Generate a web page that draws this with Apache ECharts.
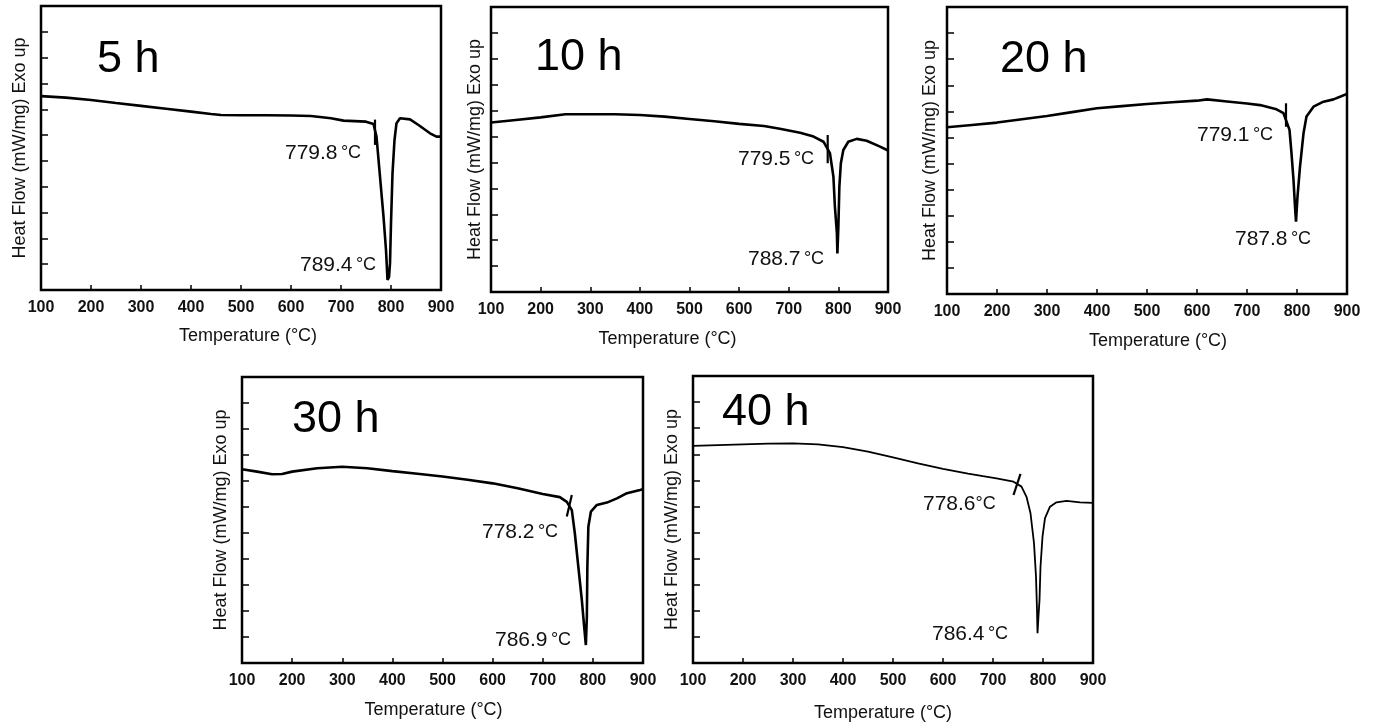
<!DOCTYPE html>
<html>
<head>
<meta charset="utf-8">
<title>DSC</title>
<script src="https://cdn.jsdelivr.net/npm/echarts@6/dist/echarts.min.js"></script>
<style>
  html, body { margin: 0; padding: 0; background: #fff; }
  #main { width: 1379px; height: 725px; }
</style>
</head>
<body>
<div id="main"></div>
<script>
// 样品标签
var titles = ['5 h', '10 h', '20 h', '30 h', '40 h']
var xTicks = [100, 200, 300, 400, 500, 600, 700, 800, 900]
// 起始温度 / 峰值温度
var onsetTemps = ['779.8', '779.5', '779.1', '778.2', '778.6']
var peakTemps = ['789.4', '788.7', '787.8', '786.9', '786.4']

// DSC曲线 [温度, 热流(任意单位)]
var curve5 = [[100,7.51],[150,7.45],[200,7.36],[250,7.24],[300,7.13],[350,7.02],[400,6.91],[440,6.82],[460,6.78],[500,6.77],[550,6.77],[600,6.76],[640,6.74],[680,6.65],[705,6.56],[750,6.52],[765,6.43],[771,5.94],[778,4.39],[785,2.84],[790,1.55],[793,0.39],[796,0.5],[798,1.03],[800,2.58],[803,4.52],[807,5.81],[811,6.46],[818,6.65],[838,6.61],[855,6.39],[878,6.07],[891,5.94],[900,5.94]]
var curve10 = [[100,6.54],[150,6.64],[200,6.74],[250,6.86],[300,6.86],[350,6.86],[400,6.83],[450,6.77],[500,6.68],[550,6.59],[600,6.49],[650,6.41],[682,6.30],[723,6.15],[750,6.0],[770,5.80],[783,5.36],[790,4.45],[793,3.29],[797,2.27],[798,1.49],[800,2.52],[802,4.07],[805,4.97],[810,5.48],[820,5.80],[837,5.91],[857,5.84],[884,5.61],[900,5.46]]
var curve20 = [[100,6.39],[150,6.48],[200,6.57],[250,6.70],[300,6.82],[350,6.97],[400,7.12],[450,7.20],[500,7.28],[550,7.35],[600,7.41],[620,7.46],[660,7.38],[700,7.30],[726,7.24],[759,7.08],[773,6.93],[785,6.29],[789,5.39],[793,4.37],[796,3.35],[798,2.77],[801,3.73],[806,4.88],[813,6.16],[819,6.80],[833,7.18],[853,7.37],[873,7.46],[886,7.56],[900,7.67]]
var curve30 = [[100,7.45],[130,7.36],[160,7.26],[180,7.27],[200,7.36],[250,7.49],[300,7.55],[350,7.49],[400,7.38],[450,7.28],[500,7.17],[550,7.05],[600,6.91],[650,6.72],[700,6.50],[734,6.38],[748,6.20],[758,5.88],[764,4.99],[771,3.70],[778,2.42],[782,1.53],[786,0.69],[788,1.78],[789,3.70],[791,5.24],[796,5.82],[808,6.08],[828,6.17],[848,6.33],[868,6.53],[894,6.65],[900,6.68]]
var curve40 = [[100,8.32],[150,8.35],[200,8.38],[250,8.41],[300,8.42],[350,8.38],[400,8.27],[450,8.10],[500,7.88],[550,7.65],[600,7.44],[650,7.26],[680,7.16],[707,7.08],[741,6.95],[757,6.76],[767,6.37],[775,5.74],[782,4.59],[786,3.31],[788,2.03],[789,1.14],[791,1.8],[793,2.41],[795,3.69],[799,4.84],[804,5.55],[814,5.99],[827,6.16],[847,6.21],[874,6.16],[900,6.14]]

// 起始点的小标记线
var mark5 = [[768,6.6],[768,5.62]]
var mark10 = [[778.5,6.06],[778.5,4.97]]
var mark20 = [[778,7.31],[778,6.41]]
var mark30 = [[748,5.63],[758,6.46]]
var mark40 = [[741,6.44],[755,7.25]]

var curves = [curve5, curve10, curve20, curve30, curve40]
var marks = [mark5, mark10, mark20, mark30, mark40]

// 布局(像素)
var grids = [
  { left: 41, top: 6, width: 400, height: 284 },
  { left: 491, top: 7, width: 397, height: 285 },
  { left: 947, top: 7, width: 400, height: 287 },
  { left: 242, top: 377, width: 401, height: 286 },
  { left: 693, top: 376, width: 400, height: 287 }
]
var yNameGap = [12, 7, 8, 12, 12]
var xNameGap = [37, 38, 38, 38, 41]
var xNameShift = [7, -22, 11, -9, -10]
var lineWidths = [2.6, 2.6, 2.6, 2.6, 1.8]
var titlePos = [[97, 60], [535, 58], [1000, 60], [292, 420], [722, 413]]
var onsetPos = [[285, 153], [738, 159], [1197, 135], [482, 532], [923, 504]]
var peakPos = [[300, 265], [748, 259], [1235, 239], [495, 640], [932, 634]]

var FONT = '"Liberation Sans", Arial, Helvetica, sans-serif'

var chart = echarts.init(document.getElementById('main'))

var option = {
  backgroundColor: '#fff',
  animation: false,
  grid: [],
  xAxis: [],
  yAxis: [],
  series: [],
  graphic: []
}

for (var i = 0; i < 5; i++) {
  var g = grids[i]
  option.grid.push({
    left: g.left, top: g.top, width: g.width, height: g.height,
    show: true, borderColor: '#000', borderWidth: 2.5, backgroundColor: 'transparent'
  })
  var sh = xNameShift[i]
  option.xAxis.push({
    gridIndex: i,
    type: 'value',
    min: xTicks[0], max: xTicks[xTicks.length - 1], interval: 100,
    name: 'Temperature (°C)',
    nameLocation: 'middle',
    nameGap: xNameGap[i],
    nameTextStyle: {
      fontSize: 18, fontFamily: FONT, color: '#111',
      padding: sh > 0 ? [0, 0, 0, 2 * sh] : [0, -2 * sh, 0, 0]
    },
    axisLine: { show: false },
    axisTick: { show: true, inside: true, length: 5, lineStyle: { color: '#000', width: 1.5 } },
    axisLabel: { fontSize: 16, fontWeight: 'bold', fontFamily: FONT, color: '#111', margin: 10 },
    splitLine: { show: false }
  })
  option.yAxis.push({
    gridIndex: i,
    type: 'value',
    min: 0, max: 11, interval: 1,
    name: 'Heat Flow (mW/mg) Exo up',
    nameLocation: 'middle',
    nameGap: yNameGap[i],
    nameTextStyle: { fontSize: 18, fontFamily: FONT, color: '#111' },
    axisLine: { show: false },
    axisTick: { show: true, inside: true, length: 7, lineStyle: { color: '#000', width: 1.5 } },
    axisLabel: { show: false },
    splitLine: { show: false }
  })
  option.series.push({
    type: 'line',
    xAxisIndex: i, yAxisIndex: i,
    data: curves[i],
    showSymbol: false,
    smooth: false,
    lineStyle: { color: '#000', width: lineWidths[i] }
  })
  option.series.push({
    type: 'line',
    xAxisIndex: i, yAxisIndex: i,
    data: marks[i],
    showSymbol: false,
    lineStyle: { color: '#000', width: 2.2 }
  })

  // 文字标注
  option.graphic.push({
    type: 'text', x: titlePos[i][0], y: titlePos[i][1],
    style: { text: titles[i], fontSize: 45, fontFamily: FONT, fill: '#000', verticalAlign: 'middle' }
  })
  var sep = i === 4 ? '' : ' '
  option.graphic.push({
    type: 'text', x: onsetPos[i][0], y: onsetPos[i][1],
    style: {
      text: '{a|' + onsetTemps[i] + '}' + sep + '{b|°C}',
      verticalAlign: 'middle', fill: '#111',
      rich: {
        a: { fontSize: 21, fontFamily: FONT, fill: '#111' },
        b: { fontSize: 18, fontFamily: FONT, fill: '#111' }
      }
    }
  })
  option.graphic.push({
    type: 'text', x: peakPos[i][0], y: peakPos[i][1],
    style: {
      text: '{a|' + peakTemps[i] + '} {b|°C}',
      verticalAlign: 'middle', fill: '#111',
      rich: {
        a: { fontSize: 21, fontFamily: FONT, fill: '#111' },
        b: { fontSize: 18, fontFamily: FONT, fill: '#111' }
      }
    }
  })
}

chart.setOption(option)
</script>
</body>
</html>
